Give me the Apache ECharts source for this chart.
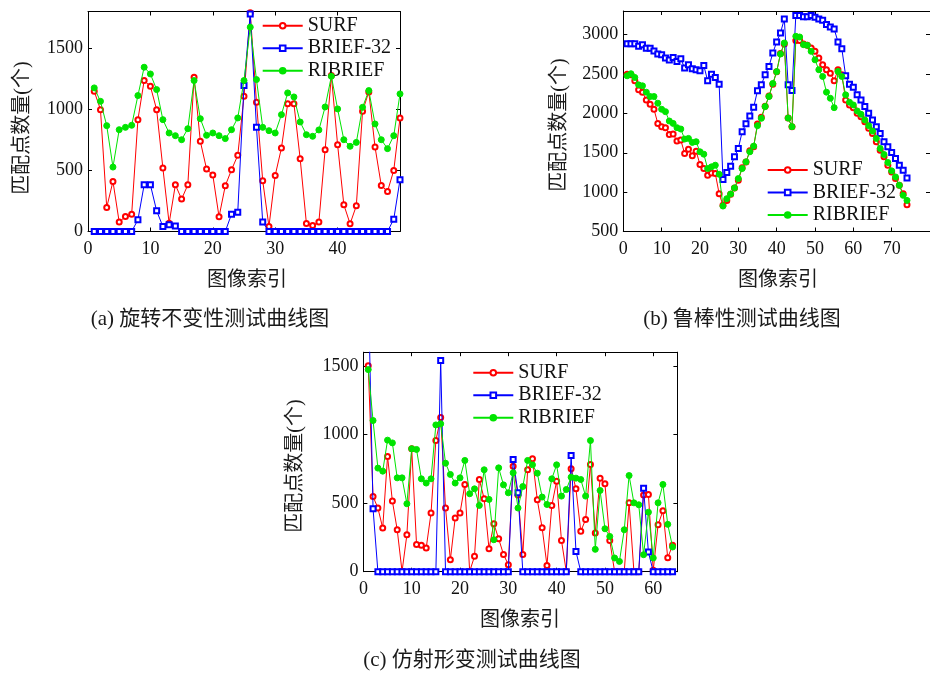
<!DOCTYPE html>
<html>
<head>
<meta charset="utf-8">
<script src="https://cdn.jsdelivr.net/npm/echarts@6/dist/echarts.min.js"></script>
<style>
html,body{margin:0;padding:0;background:#fff;}
#c{width:930px;height:673px;}
</style>
</head>
<body>
<div id="c"></div>
<script>
// ---- Data (a) rotation invariance test, image index 1..50
const surfA = [1147, 997, 197, 410, 77, 123, 142, 915, 1235, 1188, 997, 519, 68, 382, 265, 382, 1262, 738, 511, 462, 120, 374, 505, 623, 1106, 1790, 1057, 415, 41, 459, 683, 1046, 1046, 596, 66, 49, 77, 669, 1276, 710, 219, 63, 210, 984, 1142, 691, 377, 328, 500, 929];
const briefA = [0, 0, 0, 0, 0, 0, 0, 96, 382, 382, 169, 41, 55, 46, 0, 0, 0, 0, 0, 0, 0, 0, 142, 158, 1194, 1780, 852, 77, 0, 0, 0, 0, 0, 0, 0, 0, 0, 0, 0, 0, 0, 0, 0, 0, 0, 0, 0, 0, 101, 423];
const ribriefA = [1175, 1065, 866, 527, 833, 852, 869, 1112, 1344, 1289, 1161, 915, 806, 784, 751, 841, 1235, 923, 787, 806, 784, 760, 833, 929, 1235, 1672, 1243, 852, 825, 806, 956, 1134, 1101, 896, 792, 779, 831, 1019, 1270, 1003, 751, 697, 729, 1016, 1153, 880, 751, 678, 784, 1126];

// ---- Data (b) robustness test, image index 1..74
const surfB = [2498, 2490, 2413, 2299, 2269, 2171, 2116, 2052, 1873, 1831, 1818, 1733, 1737, 1648, 1661, 1491, 1546, 1461, 1520, 1350, 1299, 1214, 1244, 1236, 980, 832, 895, 972, 1053, 1150, 1308, 1384, 1525, 1576, 1865, 1950, 2090, 2220, 2370, 2530, 2760, 2880, 1940, 1830, 2924, 2924, 2881, 2864, 2830, 2788, 2703, 2618, 2554, 2511, 2413, 2554, 2490, 2171, 2107, 2073, 2001, 1958, 1895, 1810, 1746, 1640, 1533, 1448, 1342, 1257, 1172, 1087, 980, 840];
const briefB = [2885, 2885, 2885, 2851, 2873, 2826, 2826, 2792, 2754, 2745, 2703, 2677, 2711, 2660, 2694, 2575, 2617, 2566, 2554, 2541, 2609, 2413, 2498, 2456, 2371, 1159, 1248, 1329, 1448, 1554, 1767, 1869, 1967, 2077, 2286, 2362, 2490, 2596, 2766, 2907, 3021, 3200, 2362, 2290, 3243, 3243, 3226, 3226, 3243, 3221, 3200, 3183, 3128, 3098, 3072, 2907, 2822, 2477, 2371, 2333, 2235, 2171, 2086, 2001, 1916, 1831, 1746, 1640, 1576, 1503, 1427, 1342, 1278, 1180];
const ribriefB = [2477, 2503, 2456, 2362, 2350, 2269, 2214, 2214, 2129, 2052, 2022, 1903, 1873, 1818, 1801, 1674, 1682, 1631, 1640, 1512, 1482, 1299, 1321, 1342, 1227, 823, 917, 976, 1053, 1172, 1299, 1384, 1512, 1584, 1844, 1937, 2086, 2214, 2380, 2530, 2754, 2894, 1940, 1831, 2979, 2970, 2873, 2864, 2788, 2680, 2554, 2469, 2269, 2192, 2073, 2532, 2469, 2235, 2141, 2107, 2031, 1988, 1916, 1844, 1776, 1682, 1554, 1478, 1376, 1270, 1193, 1087, 959, 895];

// ---- Data (c) affine deformation test, image index 1..64
const surfC = [1502, 548, 464, 318, 840, 515, 306, 2, 269, 896, 199, 192, 172, 427, 956, 1124, 464, 87, 391, 427, 636, 2, 112, 672, 532, 167, 350, 240, 126, 51, 769, 560, 126, 743, 823, 524, 320, 46, 483, 660, 228, 2, 750, 604, 294, 381, 781, 282, 682, 641, 228, 0, 0, 0, 502, 0, 0, 560, 563, 10, 342, 444, 102, 192];
const briefC = [2100, 459, 0, 0, 0, 0, 0, 0, 0, 0, 0, 0, 0, 0, 0, 1539, 0, 0, 0, 0, 0, 0, 0, 0, 0, 0, 0, 0, 0, 0, 818, 575, 0, 0, 0, 0, 0, 0, 0, 0, 0, 0, 847, 148, 0, 0, 0, 0, 0, 0, 0, 0, 0, 0, 0, 0, 0, 609, 143, 0, 0, 0, 0, 0];
const ribriefC = [1473, 1102, 755, 733, 959, 939, 684, 684, 495, 896, 891, 677, 646, 677, 1070, 1078, 791, 709, 646, 684, 811, 568, 604, 483, 743, 527, 233, 757, 633, 575, 721, 464, 621, 811, 779, 718, 544, 490, 677, 779, 551, 599, 689, 682, 672, 551, 956, 163, 592, 313, 257, 100, 75, 306, 701, 502, 488, 124, 434, 100, 502, 636, 345, 180];

// ---- Labels
const seriesNames = ['SURF', 'BRIEF-32', 'RIBRIEF'];
const xTitle = '图像索引';
const yTitle = '匹配点数量(个)';
const captions = ['(a) 旋转不变性测试曲线图', '(b) 鲁棒性测试曲线图', '(c) 仿射形变测试曲线图'];

const SERIF = "'Liberation Serif', 'Times New Roman', serif";
const MIXED = "'Liberation Serif', 'Noto Sans CJK SC', serif";
const RED = '#ff0000', BLUE = '#0000ff', GREEN = '#00e400';

const grids = [
  {left: 88, top: 11.5, width: 312, height: 220},
  {left: 623.3, top: 11, width: 330.4, height: 220.5},
  {left: 363.4, top: 352.2, width: 314, height: 219.5}
];
const xRanges = [[0, 50], [0, 80], [0, 65]];
const yRanges = [[0, 1800], [500, 3300], [0, 1600]];
const yInterval = 500, xInterval = 10;

const plain = v => String(v);
const xAxes = [], yAxes = [];
grids.forEach((g, i) => {
  ['bottom', 'top'].forEach(pos => {
    xAxes.push({
      type: 'value', gridIndex: i, position: pos,
      min: xRanges[i][0], max: xRanges[i][1], interval: xInterval,
      axisLine: {show: true, onZero: false, lineStyle: {color: '#000', width: 1}},
      axisTick: {show: true, inside: true, length: 4, lineStyle: {color: '#000'}},
      splitLine: {show: false},
      axisLabel: {show: pos === 'bottom', showMaxLabel: false, formatter: plain, margin: 9, fontFamily: SERIF, fontSize: 18, color: '#111'}
    });
  });
  ['left', 'right'].forEach(pos => {
    yAxes.push({
      type: 'value', gridIndex: i, position: pos,
      min: yRanges[i][0], max: yRanges[i][1], interval: yInterval,
      axisLine: {show: true, onZero: false, lineStyle: {color: '#000', width: 1}},
      axisTick: {show: true, inside: true, length: 4, lineStyle: {color: '#000'}},
      splitLine: {show: false},
      axisLabel: {show: pos === 'left', showMaxLabel: false, formatter: plain, margin: 5, fontFamily: SERIF, fontSize: 18, color: '#111'}
    });
  });
});

const pairs = arr => arr.map((v, i) => [i + 1, v]);
const styles = [
  {color: RED, symbol: 'emptyCircle', size: 5},
  {color: BLUE, symbol: 'emptyRect', size: 5},
  {color: GREEN, symbol: 'circle', size: 6}
];
const dataSets = [[surfA, briefA, ribriefA], [surfB, briefB, ribriefB], [surfC, briefC, ribriefC]];
const series = [];
dataSets.forEach((set, gi) => {
  set.forEach((arr, si) => {
    const st = styles[si];
    series.push({
      name: seriesNames[si], type: 'line',
      xAxisIndex: gi * 2, yAxisIndex: gi * 2,
      data: pairs(arr), clip: true,
      symbol: st.symbol, symbolSize: st.size, showSymbol: true,
      lineStyle: {color: st.color, width: 1},
      itemStyle: {color: st.color, borderColor: st.color, borderWidth: 1},
      emphasis: {disabled: true}, z: 2 + si
    });
  });
});

const legendPos = [[261.7, 15.7], [766.7, 160], [472.3, 362.7]];
const legends = legendPos.map((p, i) => ({
  orient: 'vertical', left: p[0], top: p[1], padding: 0,
  itemWidth: 40, itemHeight: 7, itemGap: 2.5,
  data: seriesNames,
  textStyle: {fontFamily: SERIF, fontSize: 20, color: '#111', lineHeight: 20},
  selectedMode: false
}));

const txt = (x, y, text, size, rot) => ({
  type: 'text', x: x, y: y, rotation: rot || 0, z: 10,
  style: {text: text, fontFamily: MIXED, fontSize: size, fill: '#1a1a1a', align: 'center', verticalAlign: 'middle'}
});
const graphics = [
  txt(22.5, 128, yTitle, 20, Math.PI / 2),
  txt(560, 125, yTitle, 20, Math.PI / 2),
  txt(296, 466, yTitle, 20, Math.PI / 2),
  txt(247, 281, xTitle, 20),
  txt(778, 281, xTitle, 20),
  txt(520, 621, xTitle, 20),
  txt(210, 319, captions[0], 21),
  txt(742, 319, captions[1], 21),
  txt(472, 660, captions[2], 21)
];

const chart = echarts.init(document.getElementById('c'), null, {renderer: 'canvas', width: 930, height: 673});
chart.setOption({
  animation: false,
  backgroundColor: '#ffffff',
  grid: grids,
  xAxis: xAxes,
  yAxis: yAxes,
  legend: legends,
  series: series,
  graphic: graphics
});
</script>
</body>
</html>
